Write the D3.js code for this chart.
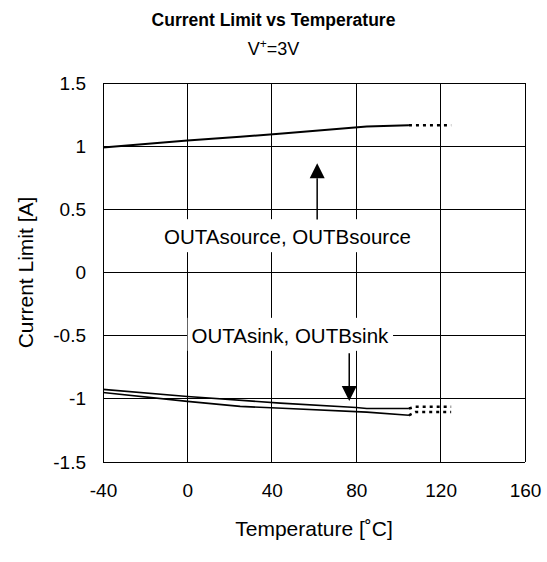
<!DOCTYPE html>
<html>
<head>
<meta charset="utf-8">
<script src="https://cdn.jsdelivr.net/npm/d3@7"></script>
<style>
  html, body { margin: 0; padding: 0; background: #fff; }
  svg { display: block; font-family: "Liberation Sans", Arial, sans-serif; }
</style>
</head>
<body>
<svg id="chart" width="547" height="562"></svg>
<script>
// ---- data ----
const xTicks = [-40, 0, 40, 80, 120, 160];
const xTickLabels = ["-40", "0", "40", "80", "120", "160"];
const yTicks = [1.5, 1, 0.5, 0, -0.5, -1, -1.5];
const yTickLabels = ["1.5", "1", "0.5", "0", "-0.5", "-1", "-1.5"];

const sourceT = [-40, 0, 25, 45, 85, 105];
const sourceV = [0.99, 1.045, 1.075, 1.10, 1.155, 1.165];
const sourceDotT = [105, 125];
const sourceDotV = [1.165, 1.165];

const sinkAT = [-40, 0, 44, 80, 85, 105];
const sinkAV = [-0.925, -0.982, -1.034, -1.069, -1.077, -1.077];
const sinkADotT = [105, 108, 125];
const sinkADotV = [-1.077, -1.062, -1.062];

const sinkBT = [-40, 0, 25, 45, 85, 105];
const sinkBV = [-0.95, -1.02, -1.06, -1.075, -1.105, -1.13];
const sinkBDotT = [105, 108, 125];
const sinkBDotV = [-1.13, -1.105, -1.105];

// annotations (data coordinates)
const sourceLabel = { text: "OUTAsource, OUTBsource", t: 47.4, v: 0.281 };
const sinkLabel = { text: "OUTAsink, OUTBsink", t: 48.6, v: -0.5 };
const sourceArrow = { t: 61.5, from: 0.42, to: 0.865 };
const sinkArrow = { t: 76.7, from: -0.64, to: -1.017 };

// ---- layout ----
const svg = d3.select("#chart");
const x = d3.scaleLinear().domain([-40, 160]).range([103, 525]);
const y = d3.scaleLinear().domain([-1.5, 1.5]).range([462, 83]);
const fontSize = 19;
const titleSize = 21;
const annSize = 20.5;

// title
svg.append("text").attr("x", 273.5).attr("y", 26).attr("text-anchor", "middle")
  .attr("font-size", 17.5).attr("font-weight", "bold").text("Current Limit vs Temperature");
const sub = svg.append("text").attr("x", 273.5).attr("y", 55).attr("text-anchor", "middle")
  .attr("font-size", 18);
sub.append("tspan").text("V");
sub.append("tspan").attr("font-size", 12).attr("dy", -7).text("+");
sub.append("tspan").attr("dy", 7).text("=3V");

// gridlines
const grid = svg.append("g").attr("stroke", "#000").attr("stroke-width", 1).attr("shape-rendering", "crispEdges");
grid.selectAll("line.v").data(xTicks).join("line").attr("class", "v")
  .attr("x1", d => x(d)).attr("x2", d => x(d)).attr("y1", y(1.5)).attr("y2", y(-1.5));
grid.selectAll("line.h").data(yTicks).join("line").attr("class", "h")
  .attr("y1", d => y(d)).attr("y2", d => y(d)).attr("x1", x(-40)).attr("x2", x(160));

// axes (labels only)
const xAxis = d3.axisBottom(x).tickValues(xTicks).tickSize(0).tickPadding(22)
  .tickFormat((d, i) => xTickLabels[i]);
const gx = svg.append("g").attr("transform", `translate(0,${y(-1.5)})`).call(xAxis);
gx.select(".domain").remove();
gx.selectAll("text").attr("font-size", fontSize).attr("font-family", "Liberation Sans, Arial, sans-serif").attr("fill", "#000");

const yAxis = d3.axisLeft(y).tickValues(yTicks).tickSize(0).tickPadding(17)
  .tickFormat((d, i) => yTickLabels[i]);
const gy = svg.append("g").attr("transform", `translate(${x(-40)},0)`).call(yAxis);
gy.select(".domain").remove();
gy.selectAll("text").attr("font-size", fontSize).attr("font-family", "Liberation Sans, Arial, sans-serif").attr("fill", "#000");

// axis titles
svg.append("text").attr("transform", `translate(33,${(y(1.5) + y(-1.5)) / 2}) rotate(-90)`)
  .attr("text-anchor", "middle").attr("font-size", titleSize).text("Current Limit [A]");
svg.append("text").attr("x", (x(-40) + x(160)) / 2).attr("y", 536).attr("text-anchor", "middle")
  .attr("font-size", titleSize).text("Temperature [˚C]");

// series
const line = d3.line().x(d => x(d[0])).y(d => y(d[1]));
const zip = (a, b) => a.map((t, i) => [t, b[i]]);
const plot = svg.append("g").attr("fill", "none").attr("stroke", "#000");

plot.append("path").attr("d", line(zip(sourceT, sourceV))).attr("stroke-width", 2);
plot.append("path").attr("d", line(zip(sourceDotT, sourceDotV))).attr("stroke-width", 2.5).attr("stroke-dasharray", "3,4");
plot.append("path").attr("d", line(zip(sinkAT, sinkAV))).attr("stroke-width", 1.6);
plot.append("path").attr("d", line(zip(sinkADotT, sinkADotV))).attr("stroke-width", 2.5).attr("stroke-dasharray", "3,4");
plot.append("path").attr("d", line(zip(sinkBT, sinkBV))).attr("stroke-width", 1.6);
plot.append("path").attr("d", line(zip(sinkBDotT, sinkBDotV))).attr("stroke-width", 2.5).attr("stroke-dasharray", "3,4");

// annotation labels with white boxes
function label(l) {
  const g = svg.append("g");
  const t = g.append("text").attr("x", x(l.t)).attr("y", y(l.v)).attr("dy", "0.35em")
    .attr("text-anchor", "middle").attr("font-size", annSize).text(l.text);
  const bb = t.node().getBBox();
  g.insert("rect", "text").attr("x", bb.x - 4).attr("y", bb.y - 6).attr("width", bb.width + 8)
    .attr("height", bb.height + 10).attr("fill", "#fff");
}
label(sourceLabel);
label(sinkLabel);

// arrows
function arrow(a) {
  const x0 = x(a.t), y0 = y(a.from), y1 = y(a.to);
  const dir = y1 < y0 ? 1 : -1; // head direction
  const headL = 15, headW = 7.5;
  svg.append("line").attr("x1", x0).attr("x2", x0).attr("y1", y0).attr("y2", y1 + dir * headL)
    .attr("stroke", "#000").attr("stroke-width", 1.5);
  svg.append("path").attr("d", `M${x0},${y1} L${x0 - headW},${y1 + dir * headL} L${x0 + headW},${y1 + dir * headL} Z`)
    .attr("fill", "#000");
}
arrow(sourceArrow);
arrow(sinkArrow);
</script>
</body>
</html>
